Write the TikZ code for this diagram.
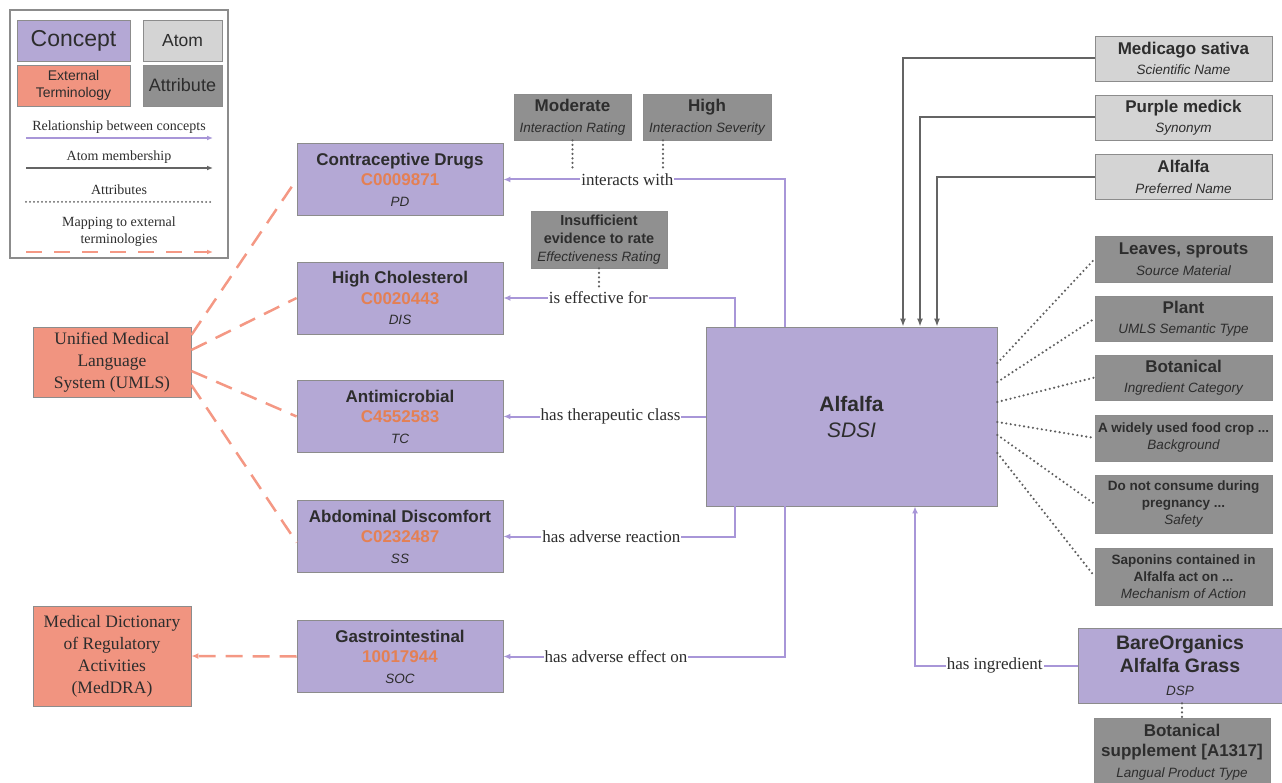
\documentclass[tikz,border=0pt]{standalone}
\usepackage{fontspec}
\setmainfont{Liberation Serif}
\setsansfont{Liberation Sans}
\usetikzlibrary{arrows.meta}

\definecolor{conceptfill}{RGB}{180,168,213}
\definecolor{atomfill}{RGB}{212,212,212}
\definecolor{attrfill}{RGB}{144,144,144}
\definecolor{extfill}{RGB}{241,148,128}
\definecolor{codecol}{RGB}{228,128,84}
\definecolor{boxline}{RGB}{140,140,140}
\definecolor{textcol}{RGB}{45,45,45}
\definecolor{relcol}{RGB}{168,150,216}
\definecolor{atomcol}{RGB}{100,100,100}
\definecolor{dotcol}{RGB}{95,95,95}
\definecolor{mapcol}{RGB}{244,152,132}

\newcommand{\ccode}[1]{{\color{codecol}\bfseries #1}}
\newcommand{\stype}[1]{{\fontsize{13.5}{16}\selectfont\itshape #1}}

\tikzset{
  box/.style={draw=boxline, line width=0.8pt, inner sep=0pt, align=center, text=textcol,
    font=\sffamily\fontsize{17}{20.5}\selectfont},
  concept/.style={box, fill=conceptfill, minimum width=206pt, minimum height=72pt},
  atom/.style={box, fill=atomfill, minimum width=177pt, minimum height=45pt},
  attr/.style={box, fill=attrfill, minimum width=177pt, minimum height=45pt},
  extterm/.style={box, fill=extfill, minimum width=158pt, font=\rmfamily\fontsize{17.5}{22}\selectfont},
  rel/.style={draw=relcol, line width=2pt, -{Latex[length=7pt,width=6pt]}},
  atomrel/.style={draw=atomcol, line width=2pt, -{Latex[length=8pt,width=6pt]}},
  attrline/.style={draw=dotcol, line width=2.4pt, line cap=round, dash pattern=on 0pt off 4.5pt},
  mapline/.style={draw=mapcol, line width=2.5pt, dash pattern=on 17pt off 10pt},
  lbl/.style={fill=white, inner sep=1pt, text=textcol, font=\rmfamily\fontsize{17}{20}\selectfont},
  leglbl/.style={text=textcol, align=center, font=\rmfamily\fontsize{14}{17}\selectfont}
}

\begin{document}
\begin{tikzpicture}[x=1pt, y=-1pt]
\useasboundingbox (0,0) rectangle (1282,783);

% legend
\draw[boxline, line width=1.5pt] (10,10) rectangle (228,258);
\node[box, fill=conceptfill, minimum width=113pt, minimum height=41pt, font=\sffamily\fontsize{23}{26}\selectfont] (lconcept) at (73.5,40.5) {Concept};
\node[box, fill=atomfill, minimum width=79pt, minimum height=41pt, font=\sffamily\fontsize{17.5}{20}\selectfont] (latom) at (182.5,40.5) {Atom};
\node[box, fill=extfill, minimum width=113pt, minimum height=41pt, font=\sffamily\fontsize{14}{17}\selectfont] (lext) at (73.5,85.5) {External\\Terminology};
\node[box, fill=attrfill, minimum width=79pt, minimum height=41pt, font=\sffamily\fontsize{18}{20}\selectfont] (lattr) at (182.5,85.5) {Attribute};
\node[leglbl] (lrel) at (119,127) {Relationship between concepts};
\node[leglbl] (lmem) at (119,157) {Atom membership};
\node[leglbl] (latt) at (119,190) {Attributes};
\node[leglbl] (lmap) at (119,232) {Mapping to external\\terminologies};
\coordinate (r1) at (26,138); \coordinate (r2) at (213,138);
\coordinate (m1) at (26,168); \coordinate (m2) at (213,168);
\coordinate (a1) at (26,202); \coordinate (a2) at (213,202);
\coordinate (d1) at (26,252); \coordinate (d2) at (213,252);
\draw[rel, line width=1.5pt, -{Latex[length=6pt,width=5pt]}] (r1) -- (r2);
\draw[atomrel, line width=1.5pt, -{Latex[length=6pt,width=5pt]}] (m1) -- (m2);
\draw[attrline, line width=2pt, dash pattern=on 0pt off 4pt] (a1) -- (a2);
\draw[mapline, line width=2pt, dash pattern=on 16pt off 12pt, -{Latex[length=6pt,width=5pt]}] (d1) -- (d2);

% external terminologies
\node[extterm, minimum height=70pt] (umls) at (112,362) {Unified Medical\\Language\\System (UMLS)};
\node[extterm, minimum height=100pt] (meddra) at (112,656) {Medical Dictionary\\of Regulatory\\Activities\\(MedDRA)};

% concepts
\node[concept] (contra) at (400,179.5) {\textbf{Contraceptive Drugs}\\\ccode{C0009871}\\\stype{PD}};
\node[concept] (cholest) at (400,298) {\textbf{High Cholesterol}\\\ccode{C0020443}\\\stype{DIS}};
\node[concept] (antimic) at (400,416.5) {\textbf{Antimicrobial}\\\ccode{C4552583}\\\stype{TC}};
\node[concept] (abdom) at (400,536.5) {\textbf{Abdominal Discomfort}\\\ccode{C0232487}\\\stype{SS}};
\node[concept] (gastro) at (400,656.5) {\textbf{Gastrointestinal}\\\ccode{10017944}\\\stype{SOC}};

\node[concept, minimum width=291pt, minimum height=179pt, font=\sffamily\fontsize{21}{26}\selectfont] (alfalfa) at (851.5,416.5) {\textbf{Alfalfa}\\\textit{SDSI}};

\node[concept, minimum width=204pt, minimum height=75pt, font=\sffamily\fontsize{19.5}{23}\selectfont] (bare) at (1180,665.5) {\textbf{BareOrganics}\\\textbf{Alfalfa Grass}\\\stype{DSP}};

% attributes on the relations
\node[attr, minimum width=117pt, minimum height=46pt] (moder) at (572.5,117) {\textbf{Moderate}\\\stype{Interaction Rating}};
\node[attr, minimum width=128pt, minimum height=46pt] (sever) at (707,117) {\textbf{High}\\\stype{Interaction Severity}};
\node[attr, minimum width=136pt, minimum height=57pt, font=\sffamily\fontsize{14.5}{18}\selectfont] (insuf) at (599,239.5) {\textbf{Insufficient}\\\textbf{evidence to rate}\\\stype{Effectiveness Rating}};

% atoms
\node[atom] (medic) at (1183.5,58.5) {\textbf{Medicago sativa}\\\stype{Scientific Name}};
\node[atom] (purple) at (1183.5,117.5) {\textbf{Purple medick}\\\stype{Synonym}};
\node[atom] (alfatom) at (1183.5,177) {\textbf{Alfalfa}\\\stype{Preferred Name}};

% attributes of Alfalfa
\node[attr, minimum height=46pt] (leaves) at (1183.5,259) {\textbf{Leaves, sprouts}\\\stype{Source Material}};
\node[attr] (plant) at (1183.5,318.5) {\textbf{Plant}\\\stype{UMLS Semantic Type}};
\node[attr] (botan) at (1183.5,377.5) {\textbf{Botanical}\\\stype{Ingredient Category}};
\node[attr, minimum height=46pt, font=\sffamily\fontsize{13.5}{17}\selectfont] (backg) at (1183.5,438) {\textbf{A widely used food crop ...}\\\stype{Background}};
\node[attr, minimum height=58pt, font=\sffamily\fontsize{13.5}{17}\selectfont] (safety) at (1183.5,504) {\textbf{Do not consume during}\\\textbf{pregnancy ...}\\\stype{Safety}};
\node[attr, minimum height=57pt, font=\sffamily\fontsize{13.5}{17}\selectfont] (mech) at (1183.5,576.5) {\textbf{Saponins contained in}\\\textbf{Alfalfa act on ...}\\\stype{Mechanism of Action}};
\node[attr, minimum width=176pt, minimum height=68pt] (botsup) at (1182,752) {\textbf{Botanical}\\\textbf{supplement [A1317]}\\\stype{Langual Product Type}};

% relationships
\draw[rel] ([xshift=-66.5pt]alfalfa.north) |- node[lbl, pos=0.78] (iw) {interacts with} (contra.east);
\draw[rel] ([xshift=-116.5pt]alfalfa.north) |- node[lbl, pos=0.795] (ief) {is effective for} (cholest.east);
\draw[rel] (alfalfa.west) -- node[lbl, pos=0.47] {has therapeutic class} (antimic.east);
\draw[rel] ([xshift=-116.5pt]alfalfa.south) |- node[lbl, pos=0.767] {has adverse reaction} (abdom.east);
\draw[rel] ([xshift=-66.5pt]alfalfa.south) |- node[lbl, pos=0.8] {has adverse effect on} (gastro.east);
\draw[rel] (bare.west) -| node[lbl, pos=0.255] {has ingredient} ([xshift=63.5pt]alfalfa.south);

% atom membership
\draw[atomrel] (medic.west) -| ([xshift=51.5pt]alfalfa.north);
\draw[atomrel] (purple.west) -| ([xshift=68.5pt]alfalfa.north);
\draw[atomrel] (alfatom.west) -| ([xshift=85.5pt]alfalfa.north);

% attributes
\draw[attrline] (moder.south) -- (moder.south |- iw.north);
\draw[attrline] ([xshift=-44pt]sever.south) -- ([xshift=-44pt]sever.south |- iw.north);
\draw[attrline] (insuf.south) -- (insuf.south |- ief.north);
\draw[attrline] ([yshift=53.5pt]alfalfa.east) -- (leaves.west);
\draw[attrline] ([yshift=34.5pt]alfalfa.east) -- (plant.west);
\draw[attrline] ([yshift=14.5pt]alfalfa.east) -- (botan.west);
\draw[attrline] ([yshift=-5.5pt]alfalfa.east) -- (backg.west);
\draw[attrline] ([yshift=-18.5pt]alfalfa.east) -- (safety.west);
\draw[attrline] ([yshift=-36.5pt]alfalfa.east) -- (mech.west);
\draw[attrline] ([xshift=2pt]bare.south) -- (botsup.north);

% mappings
\draw[mapline] ([yshift=27pt]umls.east) -- (contra.west);
\draw[mapline] ([yshift=12pt]umls.east) -- (cholest.west);
\draw[mapline] ([yshift=-9pt]umls.east) -- (antimic.west);
\draw[mapline] ([yshift=-23pt]umls.east) -- ([yshift=-6pt]abdom.west);
\draw[mapline, -{Latex[length=7pt,width=6pt]}] (gastro.west) -- (meddra.east);

\end{tikzpicture}
\end{document}
